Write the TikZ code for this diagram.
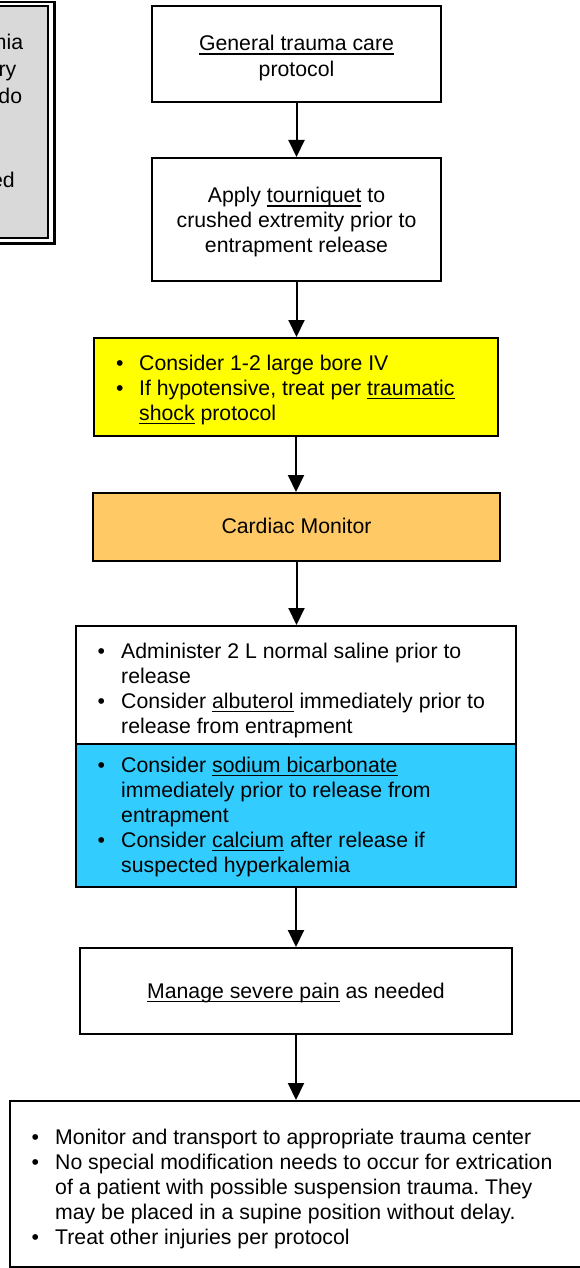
\documentclass[tikz,border=0pt]{standalone}
\usepackage{fontspec}
\setmainfont{Liberation Sans}
\usetikzlibrary{arrows.meta}
\definecolor{boxyellow}{HTML}{FFFF00}
\definecolor{boxorange}{HTML}{FFC966}
\definecolor{boxblue}{HTML}{33CCFF}
\definecolor{boxgrey}{HTML}{D9D9D9}
\frenchspacing
\newcommand{\bl}{\textbullet}
\newcommand{\uln}[1]{\leavevmode\setbox0\hbox{#1}\rlap{\rule[-3.6pt]{\wd0}{1.5pt}}\box0\relax}
\begin{document}
\begin{tikzpicture}[x=1pt,y=-1pt,
  every node/.style={font=\fontsize{21.25}{25}\selectfont\frenchspacing, inner sep=0pt},
  flowbox/.style={draw=black, line width=2pt, rectangle},
  boxtext/.style={align=center},
  listtext/.style={anchor=west, align=left},
  arr/.style={line width=2pt, -{Triangle[width=16pt,length=17pt]}}]
\clip (0,0) rectangle (580,1268);
\fill[white] (0,0) rectangle (580,1268);

% left grey box (cut off)
\draw[line width=2.5pt] (-20,2) rectangle (54.6,243.4);
\draw[line width=2pt, fill=boxgrey] (-20,6.3) rectangle (48.3,237.5);
\node[anchor=base east] (l1) at (23.3,50) {mia};
\node[anchor=base east] (l2) at (16.5,77) {ry};
\node[anchor=base east] (l3) at (22.3,104) {do};
\node[anchor=base east] (l4) at (15,187) {ed};

% flow boxes
\node[flowbox, minimum width=289pt, minimum height=96pt] (b1) at (296.5,54) {};
\node[flowbox, minimum width=289pt, minimum height=123pt] (b2) at (296.5,219.5) {};
\node[flowbox, fill=boxyellow, minimum width=404pt, minimum height=98pt] (b3) at (296,387) {};
\node[flowbox, fill=boxorange, minimum width=407pt, minimum height=68pt] (b4) at (296.5,527) {};
\node[flowbox, fill=white, minimum width=440pt, minimum height=118pt] (b5a) at (296,685) {};
\node[flowbox, fill=boxblue, minimum width=440pt, minimum height=143pt] (b5b) at (296,815.5) {};
\node[flowbox, minimum width=432pt, minimum height=86pt] (b6) at (296,991) {};
\node[flowbox, minimum width=590pt, minimum height=166pt] (b7) at (305,1184) {};

% centred texts
\node[boxtext, font=\fontsize{21.25}{26}\selectfont] (t1) at (296.5,58.5)
  {\uln{General trauma care}\\protocol};
\node[boxtext] (t2) at (296.5,222.5)
  {Apply \uln{tourniquet} to\\crushed extremity prior to\\entrapment release};
\node[boxtext] (t4) at (296.5,526) {Cardiac Monitor};
\node[boxtext] (t6) at (296,993) {\uln{Manage severe pain} as needed};

% list texts
\node[listtext] (t3) at (116,390.5) {\begin{tabular}{@{}p{23pt}@{}l@{}}
\bl & Consider 1-2 large bore IV\\
\bl & If hypotensive, treat per \uln{traumatic}\\
 & \uln{shock} protocol
\end{tabular}};
\node[listtext] (t5a) at (97.5,691) {\begin{tabular}{@{}p{23.5pt}@{}l@{}}
\bl & Administer 2 L normal saline prior to\\
 & release\\
\bl & Consider \uln{albuterol} immediately prior to\\
 & release from entrapment
\end{tabular}};
\node[listtext] (t5b) at (97.5,817.5) {\begin{tabular}{@{}p{23.5pt}@{}l@{}}
\bl & Consider \uln{sodium bicarbonate}\\
 & immediately prior to release from\\
 & entrapment\\
\bl & Consider \uln{calcium} after release if\\
 & suspected hyperkalemia
\end{tabular}};
\node[listtext] (t7) at (31.5,1189.5) {\begin{tabular}{@{}p{23.5pt}@{}l@{}}
\bl & Monitor and transport to appropriate trauma center\\
\bl & No special modification needs to occur for extrication\\
 & of a patient with possible suspension trauma. They\\
 & may be placed in a supine position without delay.\\
\bl & Treat other injuries per protocol
\end{tabular}};

% arrows
\draw[arr] (b1.south) -- (b1.south |- b2.north);
\draw[arr] (b2.south) -- (b2.south |- b3.north);
\draw[arr] (b3.south) -- (b3.south |- b4.north);
\draw[arr] (b4.south) -- (b4.south |- b5a.north);
\draw[arr] (b5b.south) -- (b5b.south |- b6.north);
\draw[arr] (b6.south) -- (b6.south |- b7.north);
\end{tikzpicture}
\end{document}
